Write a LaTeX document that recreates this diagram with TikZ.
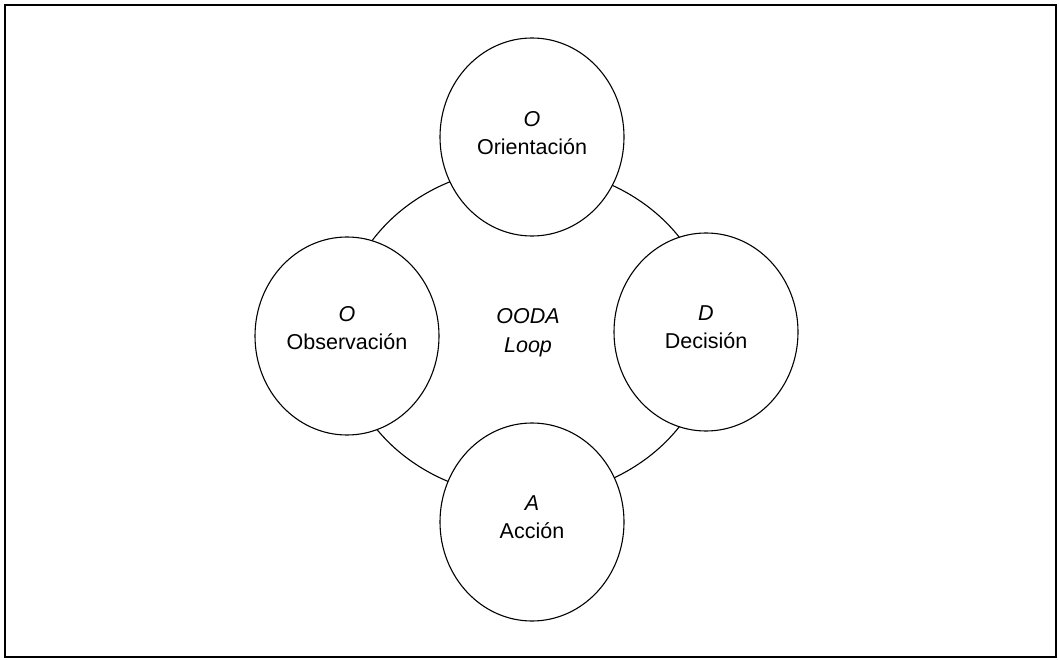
\documentclass[tikz,border=0pt]{standalone}
\usepackage{fontspec}
\setmainfont{Liberation Sans}
\usetikzlibrary{shapes.geometric}
\begin{document}
\begin{tikzpicture}[x=1pt,y=-1pt,
  stage/.style={draw, line width=1.1pt, fill=white, ellipse, inner sep=0pt,
    minimum width=184pt, minimum height=198pt},
  lbl/.style={align=center, font=\fontsize{21.5}{28.5}\selectfont, inner sep=0pt}]
  \useasboundingbox (0,0) rectangle (1059,660);
  % outer frame
  \draw[line width=2.6pt] (5,5) rectangle (1056,657);
  % the loop ring behind the four stages
  \node (ring) [draw, line width=1.1pt, ellipse, inner sep=0pt,
    minimum width=372pt, minimum height=330pt] at (527,332) {};
  % stages
  \node (orient) [stage] at (532,137) {};
  \node (obs)    [stage] at (347,336) {};
  \node (dec)    [stage] at (706,332) {};
  \node (act)    [stage] at (532,522) {};
  % stage labels
  \node (orientT) [lbl] at ([yshift=4pt]orient.center) {\textit{O}\\Orientación};
  \node (obsT)    [lbl] at ([yshift=8pt]obs.center) {\textit{O}\\Observación};
  \node (decT)    [lbl] at ([yshift=5pt]dec.center) {\textit{D}\\Decisión};
  \node (actT)    [lbl] at ([yshift=5pt]act.center) {\textit{A}\\Acción};
  \node (loopT)   [lbl, font=\fontsize{21.5}{29}\selectfont\itshape] at (528,333) {OODA\\Loop};
\end{tikzpicture}
\end{document}
